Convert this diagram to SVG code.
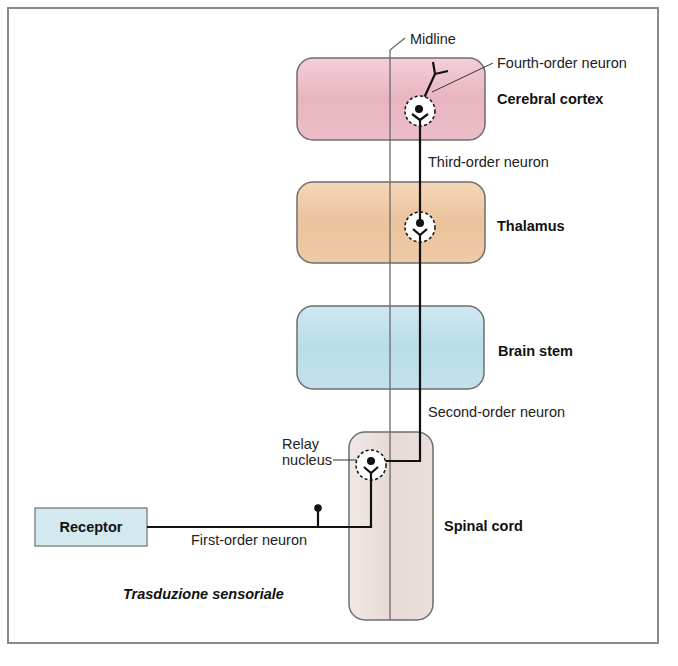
<svg xmlns="http://www.w3.org/2000/svg" width="678" height="666" viewBox="0 0 678 666">
<style>
.lbl{font-family:"Liberation Sans",Arial,sans-serif;font-size:14.5px;fill:#222}
.bold{font-weight:bold;fill:#111}
.region{stroke:#6e6e6e;stroke-width:1.5}
.axon{fill:none;stroke:#111;stroke-width:2.2;stroke-linejoin:miter}
.lead{fill:none;stroke:#333;stroke-width:1}
.mid{fill:none;stroke:#6a6a6a;stroke-width:1.3}
.nuc{fill:#fff;stroke:#111;stroke-width:1.5;stroke-dasharray:3 2.4}
</style>
<defs>
<linearGradient id="gPink" x1="0" y1="0" x2="0" y2="1"><stop offset="0" stop-color="#f3cfd6"/><stop offset="0.5" stop-color="#e8b4c0"/><stop offset="1" stop-color="#ecbec8"/></linearGradient>
<linearGradient id="gOrange" x1="0" y1="0" x2="0" y2="1"><stop offset="0" stop-color="#f6d6b7"/><stop offset="0.5" stop-color="#ebc39d"/><stop offset="1" stop-color="#eecaa6"/></linearGradient>
<linearGradient id="gBlue" x1="0" y1="0" x2="0" y2="1"><stop offset="0" stop-color="#cfe8f1"/><stop offset="0.5" stop-color="#b9dde9"/><stop offset="1" stop-color="#c2e1ec"/></linearGradient>
<linearGradient id="gCord" x1="0" y1="0" x2="1" y2="0"><stop offset="0" stop-color="#f1e8e5"/><stop offset="0.5" stop-color="#e7dad6"/><stop offset="1" stop-color="#eadfdb"/></linearGradient>
</defs>
<rect x="0" y="0" width="678" height="666" fill="#fff"/>
<rect x="8" y="8" width="650" height="635" fill="#fff" stroke="#8a8a8a" stroke-width="2"/>

<g id="cerebral-cortex">
<rect class="region" x="297" y="58" width="188" height="82" rx="16" fill="url(#gPink)"/>
<text class="lbl bold" x="497" y="104">Cerebral cortex</text>
</g>
<g id="thalamus">
<rect class="region" x="297" y="182" width="188" height="81" rx="16" fill="url(#gOrange)"/>
<text class="lbl bold" x="497" y="231">Thalamus</text>
</g>
<g id="brain-stem">
<rect class="region" x="297" y="306" width="187" height="83" rx="16" fill="url(#gBlue)"/>
<text class="lbl bold" x="498" y="356">Brain stem</text>
</g>
<g id="spinal-cord">
<rect class="region" x="349" y="432" width="84" height="188" rx="16" fill="url(#gCord)"/>
<text class="lbl bold" x="444" y="531">Spinal cord</text>
</g>
<g id="receptor">
<rect x="35" y="508" width="112" height="38" fill="#d3e9f0" stroke="#7a7a7a" stroke-width="1.3"/>
<text class="lbl bold" x="91" y="532" text-anchor="middle">Receptor</text>
</g>

<g id="midline">
<polyline class="mid" points="390,620 390,50 405,38"/>
<text class="lbl" x="410" y="44">Midline</text>
</g>

<g id="connectors">
<polyline class="axon" points="147,527 371,527 371,470"/>
<line class="axon" x1="318" y1="527" x2="318" y2="509"/>
<circle cx="318" cy="508" r="3.8" fill="#111"/>
<polyline class="axon" points="371,461 420,461 420,240"/>
<line class="axon" x1="420" y1="223" x2="420" y2="118"/>
<polyline class="axon" points="419,109 435,74"/>
<polyline class="axon" points="433,62 435,74 448,71"/>
</g>

<g id="relay-nucleus">
<circle class="nuc" cx="371" cy="465" r="15"/>
<circle cx="371" cy="461" r="4" fill="#111"/>
<polyline class="axon" points="364,467 371,473 378,467"/>
<line class="axon" x1="371" y1="473" x2="371" y2="480"/>
<polyline class="lead" points="333,460 357,460"/>
<text class="lbl" x="282" y="449">Relay</text>
<text class="lbl" x="282" y="465">nucleus</text>
</g>
<g id="thalamus-neuron">
<circle class="nuc" cx="420" cy="227" r="15"/>
<line class="axon" x1="420" y1="212" x2="420" y2="222"/>
<circle cx="420" cy="223" r="4" fill="#111"/>
<polyline class="axon" points="413,229 420,235 427,229"/>
<line class="axon" x1="420" y1="235" x2="420" y2="243"/>
</g>
<g id="cortex-neuron">
<circle class="nuc" cx="420" cy="111" r="15"/>
<circle cx="419" cy="109" r="4" fill="#111"/>
<polyline class="axon" points="412,114 420,120 428,114"/>
<line class="axon" x1="420" y1="120" x2="420" y2="127"/>
<line class="lead" x1="432" y1="92" x2="493" y2="63"/>
<text class="lbl" x="497" y="68">Fourth-order neuron</text>
</g>

<g id="labels">
<text class="lbl" x="428" y="167">Third-order neuron</text>
<text class="lbl" x="428" y="417">Second-order neuron</text>
<text class="lbl" x="191" y="545">First-order neuron</text>
<text class="lbl bold" x="123" y="599" font-style="italic">Trasduzione sensoriale</text>
</g>
</svg>
